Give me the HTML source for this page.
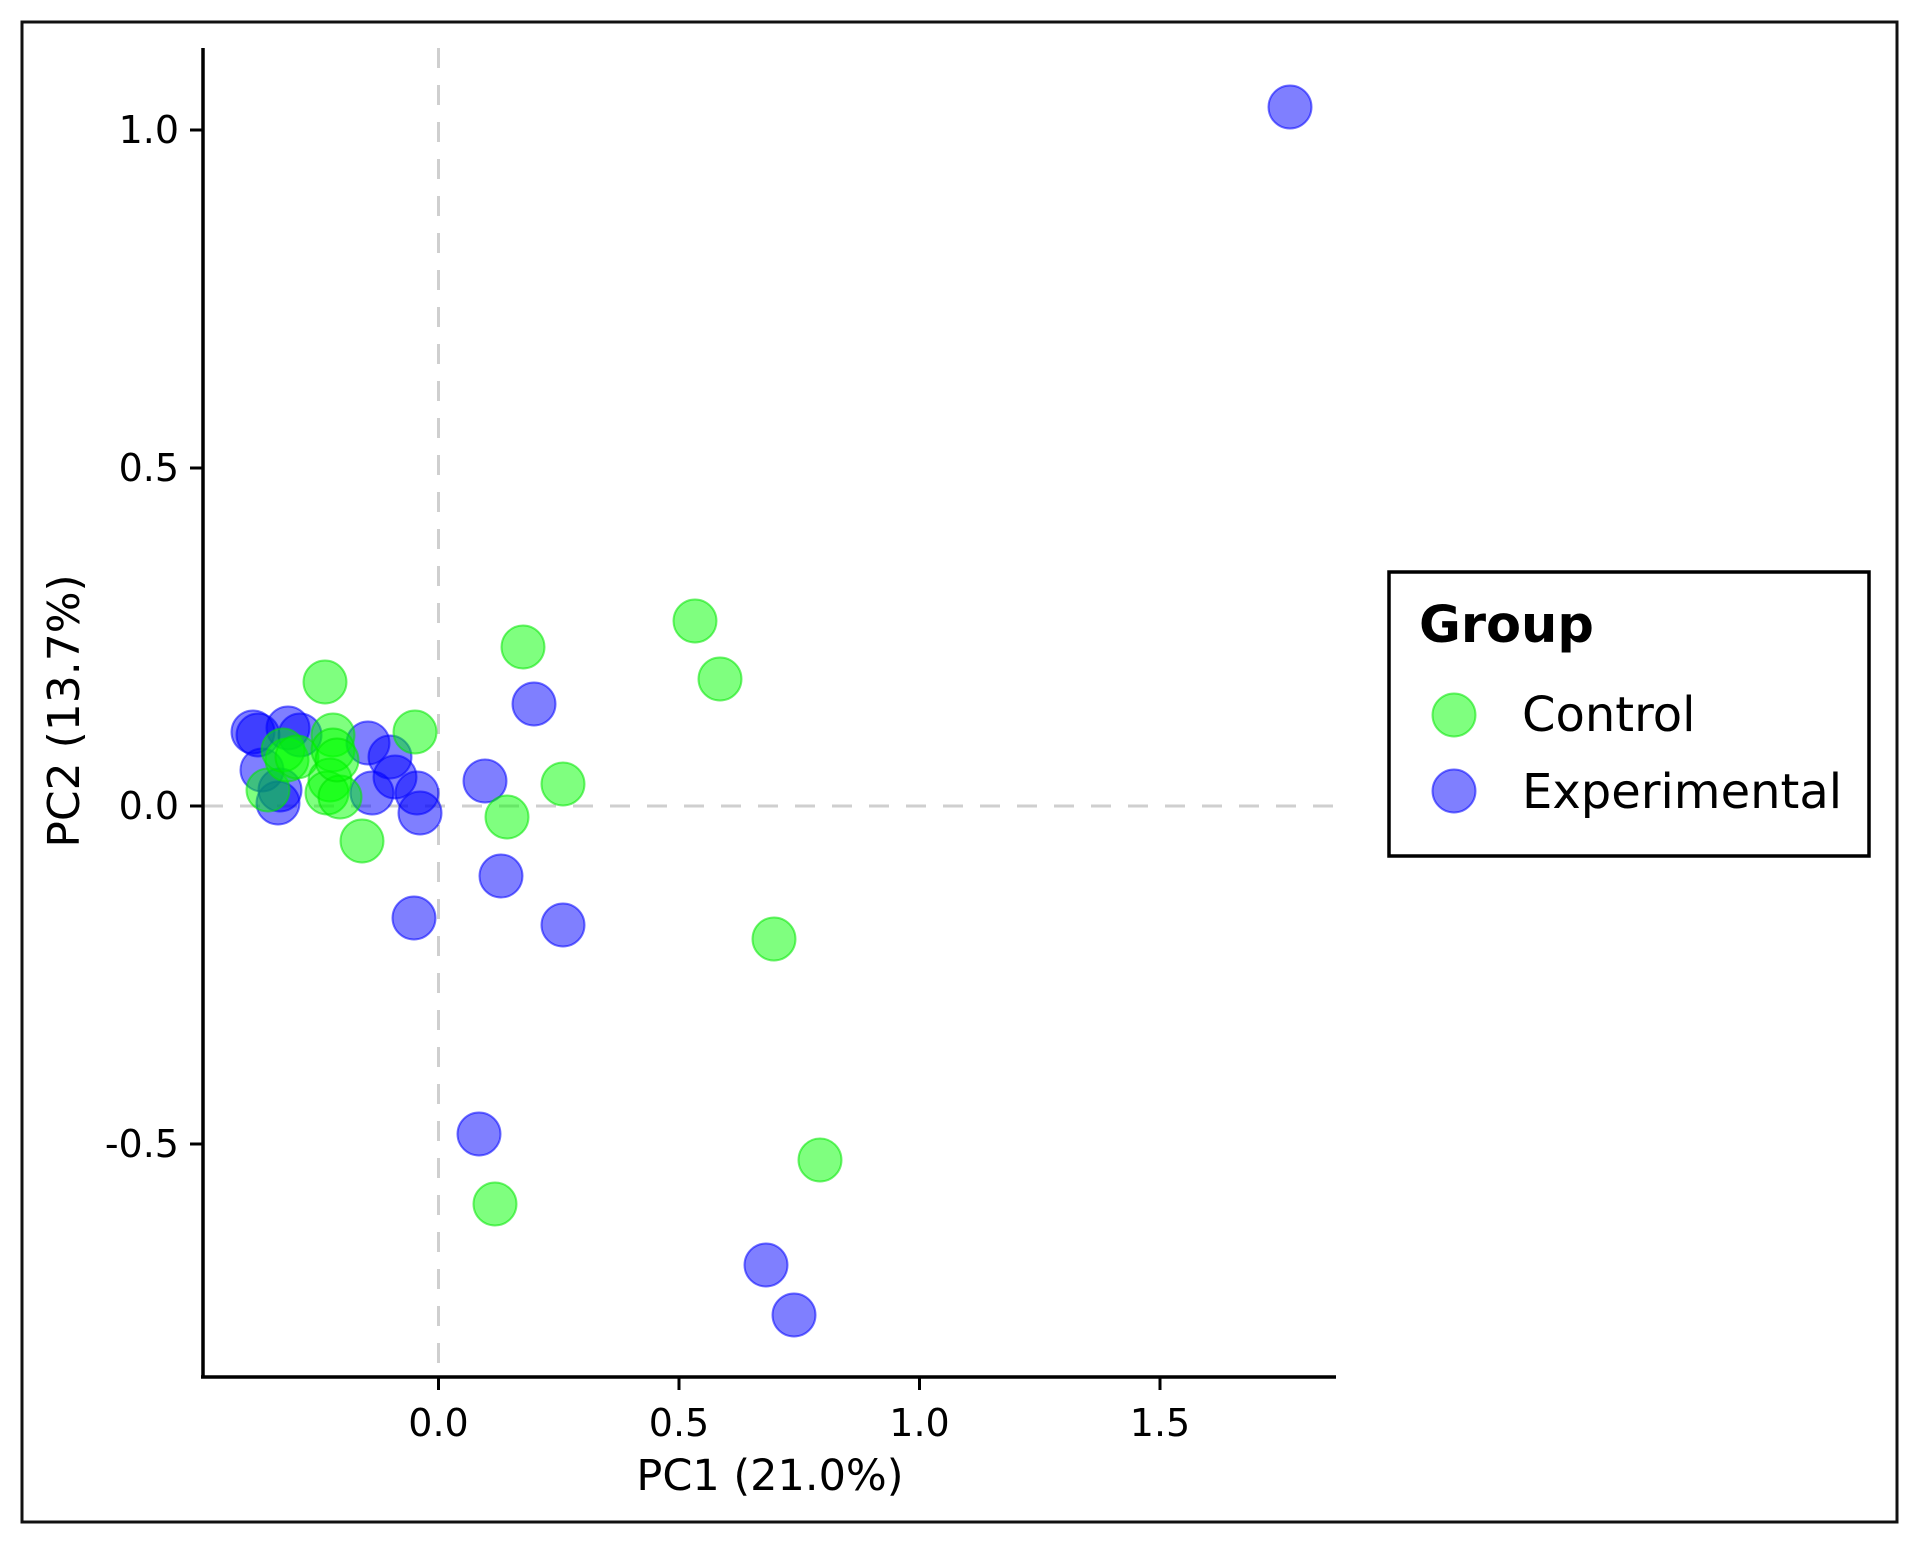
<!DOCTYPE html>
<html><head><meta charset="utf-8"><style>
html,body{margin:0;padding:0;background:#fff;}
svg{display:block;}
text{font-family:"DejaVu Sans","Liberation Sans",sans-serif;fill:#000;}
</style></head><body>
<svg width="1929" height="1550" viewBox="0 0 1929 1550" xmlns="http://www.w3.org/2000/svg">
<rect x="0" y="0" width="1929" height="1550" fill="#fff"/>
<rect x="22" y="22" width="1875" height="1500" fill="none" stroke="#111" stroke-width="3"/>
<line x1="438.5" y1="48" x2="438.5" y2="1377" stroke="#cfcfcf" stroke-width="3" stroke-dasharray="20,17"/>
<line x1="203" y1="806" x2="1336" y2="806" stroke="#cfcfcf" stroke-width="3" stroke-dasharray="20,17"/>
<g stroke-width="2">
<g fill="rgba(0,0,255,0.5)" stroke="rgba(0,0,255,0.55)">
<circle cx="1290" cy="107" r="21.5"/>
<circle cx="534" cy="704" r="21.5"/>
<circle cx="485" cy="781" r="21.5"/>
<circle cx="501" cy="876" r="21.5"/>
<circle cx="414" cy="918" r="21.5"/>
<circle cx="563" cy="925" r="21.5"/>
<circle cx="479" cy="1134" r="21.5"/>
<circle cx="766" cy="1265" r="21.5"/>
<circle cx="794" cy="1315" r="21.5"/>
<circle cx="253" cy="732" r="21.5"/>
<circle cx="258" cy="735" r="21.5"/>
<circle cx="288" cy="728" r="21.5"/>
<circle cx="300" cy="735" r="21.5"/>
<circle cx="368" cy="743" r="21.5"/>
<circle cx="390" cy="757" r="21.5"/>
<circle cx="395" cy="777" r="21.5"/>
<circle cx="417" cy="793" r="21.5"/>
<circle cx="420" cy="813" r="21.5"/>
<circle cx="372" cy="793" r="21.5"/>
<circle cx="262" cy="770" r="21.5"/>
<circle cx="278" cy="803" r="21.5"/>
<circle cx="280" cy="790" r="21.5"/>
</g>
<g fill="rgba(0,255,0,0.5)" stroke="rgba(0,230,0,0.55)">
<circle cx="695" cy="621" r="21.5"/>
<circle cx="523" cy="647" r="21.5"/>
<circle cx="720" cy="679" r="21.5"/>
<circle cx="325" cy="682" r="21.5"/>
<circle cx="563" cy="784" r="21.5"/>
<circle cx="507" cy="817" r="21.5"/>
<circle cx="362" cy="841" r="21.5"/>
<circle cx="774" cy="939" r="21.5"/>
<circle cx="820" cy="1160" r="21.5"/>
<circle cx="495" cy="1204" r="21.5"/>
<circle cx="415" cy="732" r="21.5"/>
<circle cx="333" cy="735" r="21.5"/>
<circle cx="268" cy="790" r="21.5"/>
<circle cx="287" cy="760" r="21.5"/>
<circle cx="283" cy="750" r="21.5"/>
<circle cx="297" cy="757" r="21.5"/>
<circle cx="333" cy="750" r="21.5"/>
<circle cx="330" cy="780" r="21.5"/>
<circle cx="327" cy="793" r="21.5"/>
<circle cx="340" cy="797" r="21.5"/>
<circle cx="337" cy="760" r="21.5"/>
</g>
</g>
<line x1="203" y1="48" x2="203" y2="1378" stroke="#000" stroke-width="3.5"/>
<line x1="201" y1="1377" x2="1336" y2="1377" stroke="#000" stroke-width="3.5"/>
<g stroke="#000" stroke-width="3">
<line x1="190" y1="130" x2="203" y2="130"/>
<line x1="190" y1="468" x2="203" y2="468"/>
<line x1="190" y1="806" x2="203" y2="806"/>
<line x1="190" y1="1144" x2="203" y2="1144"/>
<line x1="438.5" y1="1377" x2="438.5" y2="1390"/>
<line x1="679" y1="1377" x2="679" y2="1390"/>
<line x1="919.5" y1="1377" x2="919.5" y2="1390"/>
<line x1="1160" y1="1377" x2="1160" y2="1390"/>
</g>
<g font-size="38" text-anchor="end">
<text x="179" y="143">1.0</text>
<text x="179" y="481">0.5</text>
<text x="179" y="819">0.0</text>
<text x="179" y="1157">-0.5</text>
</g>
<g font-size="38" text-anchor="middle">
<text x="438.5" y="1436">0.0</text>
<text x="679" y="1436">0.5</text>
<text x="919.5" y="1436">1.0</text>
<text x="1160" y="1436">1.5</text>
</g>
<text x="770" y="1490" font-size="43" text-anchor="middle">PC1 (21.0%)</text>
<text transform="translate(79,711) rotate(-90)" font-size="44" text-anchor="middle">PC2 (13.7%)</text>
<rect x="1389" y="572" width="480" height="284" fill="#fff" stroke="#000" stroke-width="3.5"/>
<text x="1419" y="642" font-size="51" font-weight="bold">Group</text>
<circle cx="1454" cy="715" r="21.5" fill="rgba(0,255,0,0.5)" stroke="rgba(0,230,0,0.55)" stroke-width="2"/>
<circle cx="1454" cy="791" r="21.5" fill="rgba(0,0,255,0.5)" stroke="rgba(0,0,255,0.55)" stroke-width="2"/>
<text x="1522" y="731" font-size="48">Control</text>
<text x="1522" y="808" font-size="48">Experimental</text>
</svg>
</body></html>
